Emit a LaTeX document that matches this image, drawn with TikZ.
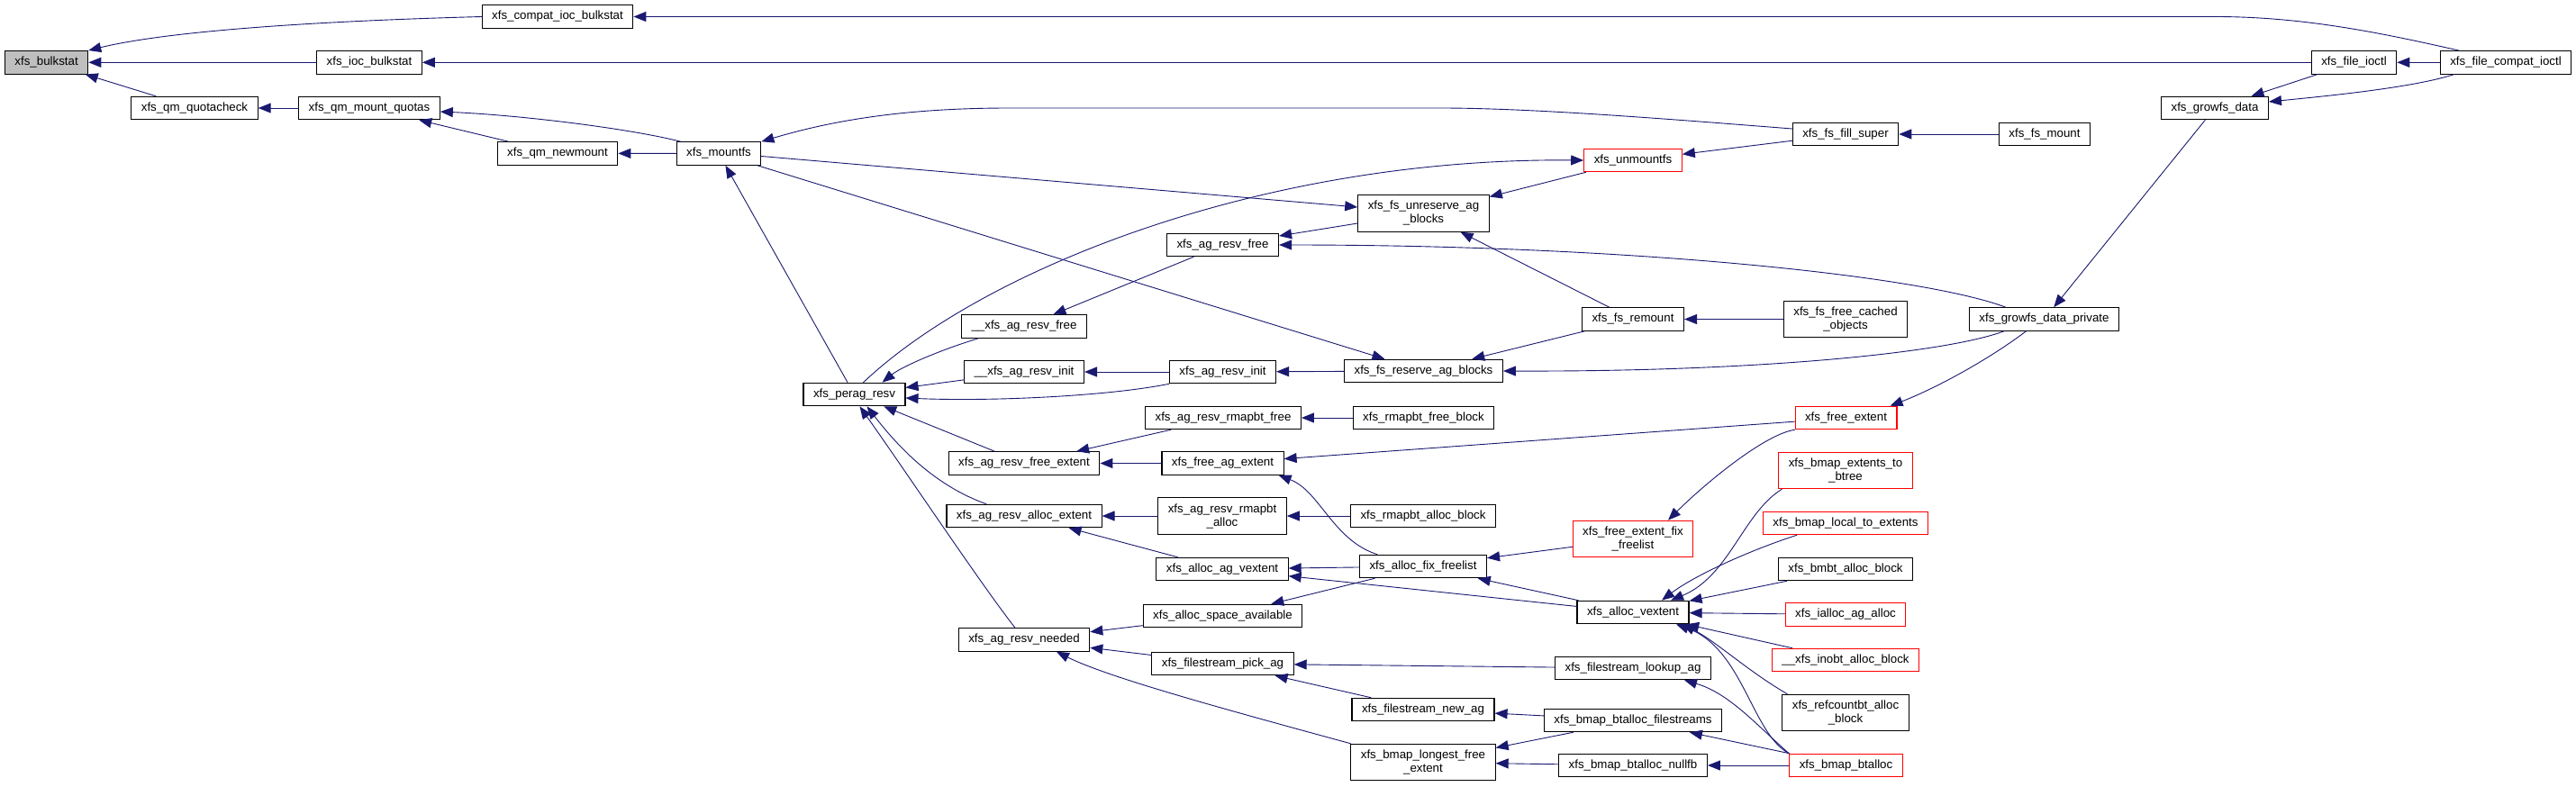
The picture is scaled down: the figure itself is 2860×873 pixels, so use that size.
\documentclass[tikz,border=0pt]{standalone}
\usepackage{fontspec}
\usepackage{tikz}
\usetikzlibrary{arrows.meta}
\newfontfamily\dxfont{Liberation Sans}
\definecolor{dxnavy}{HTML}{191970}
\definecolor{dxred}{HTML}{FF0000}
\definecolor{dxgray}{HTML}{BFBFBF}

\begin{document}
\begin{tikzpicture}[x=1pt,y=-1pt,line cap=round,
    fn/.style={draw=black,line width=1.1pt,fill=white,inner xsep=11pt,inner ysep=1pt,
      minimum height=25.5pt,align=center,font=\dxfont\fontsize{13.3}{15}\selectfont},
    tall/.style={fn,minimum height=40.5pt},
    trunc/.style={draw=dxred},
    focus/.style={fill=dxgray},
    call/.style={dxnavy,line width=0.9pt,-{Triangle[length=14pt,width=11pt]}}]
    \useasboundingbox (0,0) rectangle (2860,873);
    % functions, one column per rank
    \node[fn,focus] (bulk) at (51.6,69.3) {xfs\_bulkstat};
    \node[fn] (compatioc) at (619,18.5) {xfs\_compat\_ioc\_bulkstat};
    \node[fn] (iocbulk) at (410,69.3) {xfs\_ioc\_bulkstat};
    \node[fn] (quotacheck) at (216,120) {xfs\_qm\_quotacheck};
    \node[fn] (mountquotas) at (410,120) {xfs\_qm\_mount\_quotas};
    \node[fn] (newmount) at (619,170.3) {xfs\_qm\_newmount};
    \node[fn] (mountfs) at (798,170.5) {xfs\_mountfs};
    \node[fn] (peragresv) at (948.5,438) {xfs\_perag\_resv};
    \node[fn] (agresvfreeint) at (1137,362.5) {\_\_xfs\_ag\_resv\_free};
    \node[fn] (agresvinitint) at (1137,413) {\_\_xfs\_ag\_resv\_init};
    \node[fn] (agresvfreeext) at (1137,514.5) {xfs\_ag\_resv\_free\_extent};
    \node[fn] (agresvallocext) at (1137,573) {xfs\_ag\_resv\_alloc\_extent};
    \node[fn] (agresvneeded) at (1137,710.5) {xfs\_ag\_resv\_needed};
    \node[fn] (agresvfree) at (1357.5,272) {xfs\_ag\_resv\_free};
    \node[fn] (agresvinit) at (1357.5,413) {xfs\_ag\_resv\_init};
    \node[fn] (rmapbtfree) at (1358,464) {xfs\_ag\_resv\_rmapbt\_free};
    \node[fn] (freeagext) at (1357.5,514.5) {xfs\_free\_ag\_extent};
    \node[tall] (rmapbtalloc) at (1357,573) {xfs\_ag\_resv\_rmapbt\\\_alloc};
    \node[fn] (allocagvext) at (1357,632) {xfs\_alloc\_ag\_vextent};
    \node[fn] (spaceavail) at (1357.5,684) {xfs\_alloc\_space\_available};
    \node[fn] (pickag) at (1357.5,737) {xfs\_filestream\_pick\_ag};
    \node[tall] (unreserve) at (1580.5,237) {xfs\_fs\_unreserve\_ag\\\_blocks};
    \node[fn] (reserve) at (1580.5,412) {xfs\_fs\_reserve\_ag\_blocks};
    \node[fn] (rmapfreeblk) at (1580.5,464) {xfs\_rmapbt\_free\_block};
    \node[fn] (rmapallocblk) at (1580,573) {xfs\_rmapbt\_alloc\_block};
    \node[fn] (fixfreelist) at (1580,629) {xfs\_alloc\_fix\_freelist};
    \node[fn] (newag) at (1580,788) {xfs\_filestream\_new\_ag};
    \node[tall] (longestfree) at (1580,846.5) {xfs\_bmap\_longest\_free\\\_extent};
    \node[fn,trunc] (unmountfs) at (1813,178) {xfs\_unmountfs};
    \node[fn] (remount) at (1813,354.5) {xfs\_fs\_remount};
    \node[tall,trunc] (extfixfreelist) at (1813,598.5) {xfs\_free\_extent\_fix\\\_freelist};
    \node[fn] (allocvext) at (1813,680) {xfs\_alloc\_vextent};
    \node[fn] (lookupag) at (1813,742) {xfs\_filestream\_lookup\_ag};
    \node[fn] (btallocfs) at (1813,800) {xfs\_bmap\_btalloc\_filestreams};
    \node[fn] (btallocnullfb) at (1813,850) {xfs\_bmap\_btalloc\_nullfb};
    \node[fn] (fillsuper) at (2049,149) {xfs\_fs\_fill\_super};
    \node[tall] (freecached) at (2049,354.5) {xfs\_fs\_free\_cached\\\_objects};
    \node[fn,trunc] (freeextent) at (2049.5,464) {xfs\_free\_extent};
    \node[tall,trunc] (extstobtree) at (2049,522.5) {xfs\_bmap\_extents\_to\\\_btree};
    \node[fn,trunc] (localtoexts) at (2049,581) {xfs\_bmap\_local\_to\_extents};
    \node[fn] (bmbtalloc) at (2049,632) {xfs\_bmbt\_alloc\_block};
    \node[fn,trunc] (iallocagalloc) at (2049,682.5) {xfs\_ialloc\_ag\_alloc};
    \node[fn,trunc] (inobtalloc) at (2049,733) {\_\_xfs\_inobt\_alloc\_block};
    \node[tall] (refcountalloc) at (2049,791.5) {xfs\_refcountbt\_alloc\\\_block};
    \node[fn,trunc] (btalloc) at (2049.5,850) {xfs\_bmap\_btalloc};
    \node[fn] (fsmount) at (2270,149) {xfs\_fs\_mount};
    \node[fn] (growfspriv) at (2269.5,354.5) {xfs\_growfs\_data\_private};
    \node[fn] (growfs) at (2459,120) {xfs\_growfs\_data};
    \node[fn] (fileioctl) at (2613.5,69.3) {xfs\_file\_ioctl};
    \node[fn] (compatioctl) at (2782,69.3) {xfs\_file\_compat\_ioctl};
    % callers, tip on the callee
    \draw[call] (compatioc.west) .. controls (330,24) and (180,36) .. (bulk.north east);
    \draw[call] (iocbulk) -- (bulk);
    \draw[call] (quotacheck) -- (bulk);
    \draw[call] (mountquotas) -- (quotacheck);
    \draw[call] (newmount) -- (mountquotas);
    \draw[call] ([xshift=5pt]mountfs.north west) .. controls (700,143) and (580,128) .. ([yshift=-4pt]mountquotas.east);
    \draw[call] (mountfs) -- (newmount);
    \draw[call] ([xshift=21pt]compatioctl.north west) .. controls (2650,38) and (2560,18.5) .. (2460,18.5) -- (compatioc.east);
    \draw[call] (fileioctl) -- (iocbulk);
    \draw[call] ([yshift=6pt]fillsuper.west) .. controls (1850,132) and (1700,120) .. (1600,120) -- (1120,120) .. controls (1000,120) and (920,135) .. (mountfs.north east);
    \draw[call] ([yshift=-3pt]mountfs.east) -- ([yshift=7pt]unreserve.west);
    \draw[call] (mountfs) -- (reserve);
    \draw[call] (peragresv) -- (mountfs);
    \draw[call] ([xshift=10pt]peragresv.north) .. controls (1090,300) and (1400,175) .. (unmountfs.west);
    \draw[call] ([xshift=19pt]agresvfreeint.south west) .. controls (1040,390) and (1000,408) .. ([xshift=-26pt]peragresv.north east);
    \draw[call] (agresvfree) -- (agresvfreeint);
    \draw[call] (agresvinitint) -- (peragresv);
    \draw[call] (agresvinit) -- (agresvinitint);
    \draw[call] (agresvinit.south west) .. controls (1230,440) and (1100,446) .. ([yshift=-4pt]peragresv.east);
    \draw[call] (reserve) -- (agresvinit);
    \draw[call] ([xshift=39pt]growfspriv.south west) .. controls (2160,392) and (1950,413) .. (reserve.east);
    \draw[call] ([xshift=41pt]growfspriv.north west) .. controls (2130,305) and (1800,272) .. (agresvfree.east);
    \draw[call] ([yshift=-11pt]unreserve.west) -- ([yshift=10pt]agresvfree.east);
    \draw[call] (fillsuper) -- (unmountfs);
    \draw[call] (unmountfs) -- (unreserve);
    \draw[call] (remount) -- (unreserve);
    \draw[call] (freecached) -- (remount);
    \draw[call] (remount) -- (reserve);
    \draw[call] (fsmount) -- (fillsuper);
    \draw[call] (compatioctl) -- (fileioctl);
    \draw[call] (fileioctl) -- (growfs);
    \draw[call] ([xshift=16pt]compatioctl.south west) .. controls (2680,97) and (2590,106) .. ([yshift=7pt]growfs.east);
    \draw[call] (growfs) -- (growfspriv);
    \draw[call] ([xshift=-20pt]growfspriv.south) .. controls (2200,405) and (2140,435) .. ([xshift=-8pt]freeextent.north east);
    \draw[call] (agresvfreeext) -- (peragresv);
    \draw[call] ([xshift=-42pt]agresvallocext.north) .. controls (1040,540) and (1000,500) .. ([xshift=14pt]peragresv.south);
    \draw[call] ([xshift=-10pt]agresvneeded.north) .. controls (1090,650) and (1010,530) .. ([xshift=6pt]peragresv.south);
    \draw[call] (rmapbtfree) -- (agresvfreeext);
    \draw[call] (freeagext) -- (agresvfreeext);
    \draw[call] (rmapbtalloc) -- (agresvallocext);
    \draw[call] (allocagvext) -- (agresvallocext);
    \draw[call] (spaceavail) -- (agresvneeded);
    \draw[call] (pickag) -- (agresvneeded);
    \draw[call] (longestfree.north west) .. controls (1350,785) and (1230,752) .. ([xshift=36pt]agresvneeded.south);
    \draw[call] (rmapfreeblk) -- (rmapbtfree);
    \draw[call] (rmapallocblk) -- (rmapbtalloc);
    \draw[call] (freeextent) -- (freeagext);
    \draw[call] (freeextent.south west) .. controls (1960,482) and (1895,535) .. ([xshift=39pt]extfixfreelist.north);
    \draw[call] ([xshift=-51pt]fixfreelist.north) .. controls (1480,600) and (1465,545) .. ([xshift=-6pt]freeagext.south east);
    \draw[call] (extfixfreelist) -- (fixfreelist);
    \draw[call] (fixfreelist) -- (allocagvext);
    \draw[call] (fixfreelist) -- (spaceavail);
    \draw[call] (allocvext) -- (allocagvext);
    \draw[call] (allocvext) -- (fixfreelist);
    \draw[call] ([xshift=4pt]extstobtree.south west) .. controls (1935,570) and (1920,640) .. ([xshift=42pt]allocvext.north);
    \draw[call] ([xshift=38pt]localtoexts.south west) .. controls (1940,612) and (1880,640) .. ([xshift=32pt]allocvext.north);
    \draw[call] (bmbtalloc) -- (allocvext);
    \draw[call] (iallocagalloc) -- (allocvext);
    \draw[call] (inobtalloc) -- (allocvext);
    \draw[call] ([xshift=6pt]refcountalloc.north west) .. controls (1940,745) and (1905,712) .. ([xshift=55pt]allocvext.south);
    \draw[call] (btalloc.north west) .. controls (1945,815) and (1935,720) .. ([xshift=48pt]allocvext.south);
    \draw[call] (btalloc.north west) .. controls (1950,805) and (1920,770) .. ([xshift=57pt]lookupag.south);
    \draw[call] (btalloc) -- (btallocfs);
    \draw[call] (btalloc) -- (btallocnullfb);
    \draw[call] (lookupag) -- (pickag);
    \draw[call] (newag) -- (pickag);
    \draw[call] (btallocfs) -- (newag);
    \draw[call] (btallocfs) -- (longestfree);
    \draw[call] (btallocnullfb) -- (longestfree);
  \end{tikzpicture}
\end{document}
